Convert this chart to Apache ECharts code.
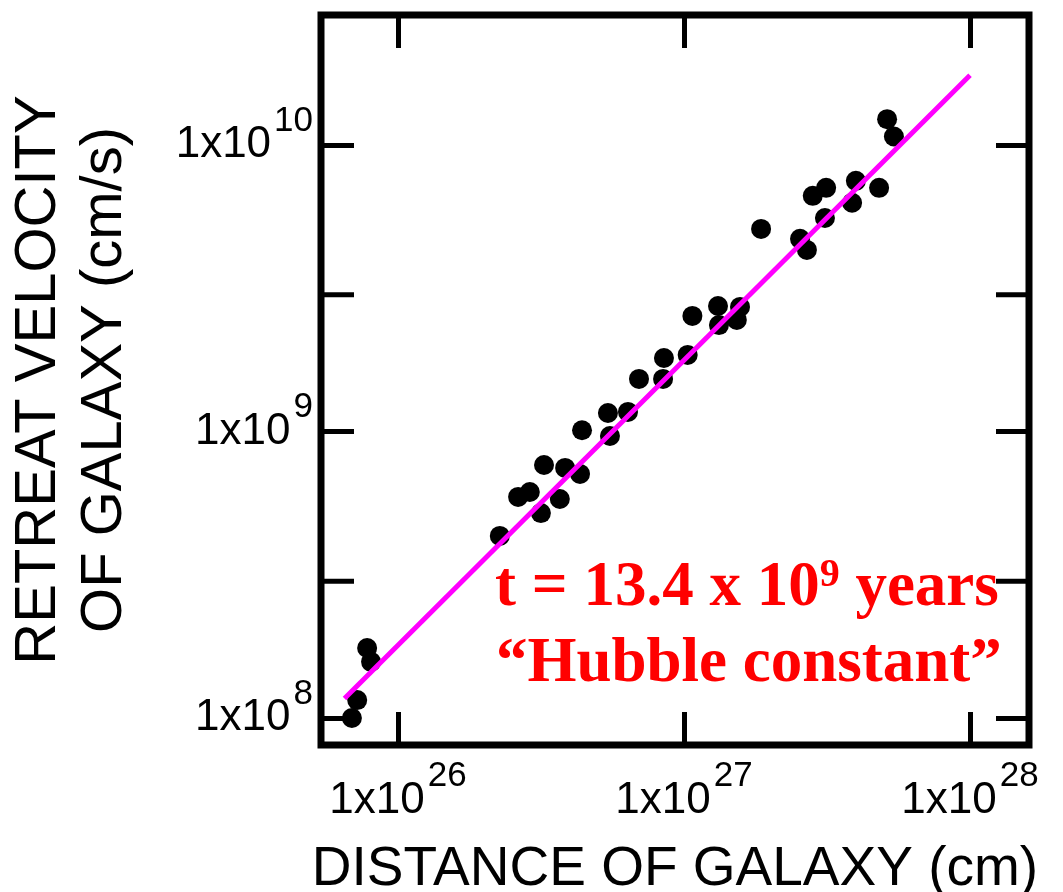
<!DOCTYPE html>
<html>
<head>
<meta charset="utf-8">
<script src="https://cdn.jsdelivr.net/npm/echarts@6/dist/echarts.min.js"></script>
<style>html,body{margin:0;padding:0;background:#fff}#c{width:1063px;height:892px}</style>
</head>
<body>
<div id="c"></div>
<script>
// Axis extents (cm, cm/s)
const xMin = 5.38e25, xMax = 1.608e28;
const yMin = 8.05e7, yMax = 2.84e10;
// Galaxy distances (cm)
const distance = [6.9e25, 7.2e25, 7.8e25, 8.05e25, 2.27e26, 2.63e26, 2.89e26, 3.16e26, 3.68e26, 3.24e26,
  3.84e26, 4.33e26, 4.40e26, 5.51e26, 5.42e26, 6.37e26, 6.96e26, 8.45e26, 8.51e26, 1.03e27,
  1.07e27, 1.315e27, 1.325e27, 1.57e27, 1.53e27, 1.86e27, 2.545e27, 2.69e27, 2.82e27, 3.14e27,
  3.11e27, 3.87e27, 3.99e27, 4.81e27, 5.13e27, 5.42e27];
// Retreat velocities (cm/s)
const velocity = [1.0e8, 1.155e8, 1.755e8, 1.57e8, 4.32e8, 5.91e8, 6.15e8, 5.19e8, 5.81e8, 7.64e8,
  7.46e8, 7.11e8, 1.01e9, 9.64e8, 1.16e9, 1.17e9, 1.525e9, 1.525e9, 1.805e9, 1.85e9,
  2.53e9, 2.74e9, 2.35e9, 2.72e9, 2.45e9, 5.09e9, 4.70e9, 4.30e9, 6.64e9, 7.08e9,
  5.56e9, 6.28e9, 7.49e9, 7.08e9, 1.23e10, 1.07e10];
// Fitted Hubble line endpoints
const fitDistance = [6.5e25, 1.0e28];
const fitVelocity = [1.17e8, 1.75e10];
// Intermediate y ticks
const yMinorTicks = [3e8, 3e9];

const chart = echarts.init(document.getElementById('c'), null, {renderer: 'canvas'});

function powLabel(v) {
  const l = Math.log10(v);
  const e = Math.round(l);
  if (Math.abs(l - e) > 1e-6) return '';
  return '{m|1x10}{s|' + e + '}';
}
const labelRich = {
  m: {fontSize: 44, fontFamily: 'Liberation Sans', color: '#000'},
  s: {fontSize: 35, fontFamily: 'Liberation Sans', color: '#000', padding: [0, 0, 48, 3]}
};
const tickStyle = {show: true, inside: true, length: 33, lineStyle: {color: '#000', width: 5}};

const option = {
  backgroundColor: '#fff',
  animation: false,
  grid: {left: 321, right: 34, top: 15, bottom: 147, show: true, borderColor: '#000', borderWidth: 7,
    containLabel: false, outerBoundsMode: 'none'},
  xAxis: [{
    type: 'log', logBase: 10, min: xMin, max: xMax, position: 'bottom',
    axisLine: {show: false}, splitLine: {show: false}, minorTick: {show: false},
    axisTick: tickStyle,
    axisLabel: {formatter: powLabel, rich: labelRich, margin: 14, showMinLabel: true, showMaxLabel: true},
    name: 'DISTANCE OF GALAXY (cm)', nameLocation: 'middle', nameGap: 97,
    nameTextStyle: {fontSize: 55, fontFamily: 'Liberation Sans', color: '#000'}
  }, {
    type: 'log', logBase: 10, min: xMin, max: xMax, position: 'top',
    axisLine: {show: false}, splitLine: {show: false}, axisLabel: {show: false},
    axisTick: tickStyle
  }],
  yAxis: [{
    type: 'log', logBase: 10, min: yMin, max: yMax, position: 'left',
    axisLine: {show: false}, splitLine: {show: false}, minorTick: {show: false},
    axisTick: tickStyle,
    axisLabel: {formatter: powLabel, rich: labelRich, margin: 8},
    name: 'RETREAT VELOCITY\nOF GALAXY (cm/s)', nameLocation: 'middle', nameGap: 183,
    nameTextStyle: {fontSize: 58, lineHeight: 66, fontFamily: 'Liberation Sans', color: '#000'}
  }, {
    type: 'log', logBase: 10, min: yMin, max: yMax, position: 'right',
    axisLine: {show: false}, splitLine: {show: false}, axisLabel: {show: false},
    axisTick: tickStyle
  }],
  series: [{
    type: 'scatter',
    data: distance.map((d, i) => [d, velocity[i]]),
    symbol: 'circle', symbolSize: 20,
    itemStyle: {color: '#000', opacity: 1},
    z: 2
  }, {
    type: 'line',
    data: fitDistance.map((d, i) => [d, fitVelocity[i]]),
    showSymbol: false, symbol: 'none',
    lineStyle: {color: '#ff00ff', width: 5, opacity: 1},
    z: 3
  }, {
    type: 'custom',
    data: yMinorTicks.map(v => [xMin, v]),
    clip: false,
    z: 4,
    renderItem: function (params, api) {
      const v = api.value(1);
      const pl = api.coord([xMin, v]);
      const pr = api.coord([xMax, v]);
      return {
        type: 'group',
        children: [
          {type: 'line', shape: {x1: pl[0], y1: pl[1], x2: pl[0] + 33, y2: pl[1]}, style: {stroke: '#000', lineWidth: 5}},
          {type: 'line', shape: {x1: pr[0] - 33, y1: pr[1], x2: pr[0], y2: pr[1]}, style: {stroke: '#000', lineWidth: 5}}
        ]
      };
    }
  }],
  graphic: [{
    type: 'text', x: 495, y: 589, z: 10,
    style: {
      text: '{m|t = 13.4 x 10}{s|9}{m| years}',
      align: 'left', verticalAlign: 'middle',
      rich: {
        m: {fontSize: 63, fontFamily: 'Liberation Serif', fontWeight: 'bold', fill: '#ff0000'},
        s: {fontSize: 40, fontFamily: 'Liberation Serif', fontWeight: 'bold', fill: '#ff0000', padding: [0, 0, 27, 0]}
      }
    }
  }, {
    type: 'text', x: 496, y: 665, z: 10,
    style: {
      text: '\u201CHubble constant\u201D',
      align: 'left', verticalAlign: 'middle',
      fontSize: 63, fontFamily: 'Liberation Serif', fontWeight: 'bold', fill: '#ff0000'
    }
  }]
};
chart.setOption(option);
</script>
</body>
</html>
